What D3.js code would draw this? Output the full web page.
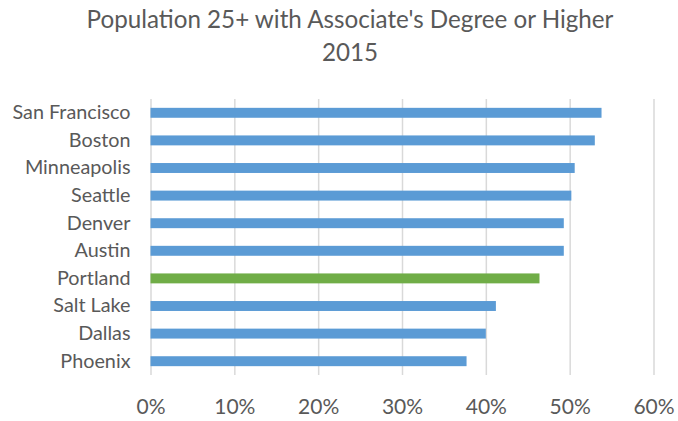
<!DOCTYPE html>
<html>
<head>
<meta charset="utf-8">
<script src="https://cdn.jsdelivr.net/npm/d3@7"></script>
<style>
  html, body { margin: 0; padding: 0; background: #fff; }
  svg { display: block; font-family: Lato, "Open Sans", sans-serif; }
</style>
</head>
<body>
<div id="chart"></div>
<script>
const cities = ['San Francisco', 'Boston', 'Minneapolis', 'Seattle', 'Denver',
  'Austin', 'Portland', 'Salt Lake', 'Dallas', 'Phoenix'];
const shares = [0.538, 0.530, 0.506, 0.502, 0.493, 0.493, 0.464, 0.412, 0.400, 0.377];
const highlight = ['Portland'];
const ticks = [0, 0.1, 0.2, 0.3, 0.4, 0.5, 0.6];
const titleLines = ["Population 25+ with Associate's Degree or Higher", '2015'];

const width = 678;
const height = 421;
const plot = { left: 150.5, right: 653.5, top: 99, bottom: 375 };

const svg = d3.select('#chart')
  .append('svg')
  .attr('width', width)
  .attr('height', height);

const x = d3.scaleLinear()
  .domain([0, 0.6])
  .range([plot.left, plot.right]);

const y = d3.scaleBand()
  .domain(cities)
  .range([plot.top, plot.bottom])
  .paddingInner(0.64)
  .paddingOuter(0.32);

// title
svg.append('g')
  .selectAll('text')
  .data(titleLines)
  .enter()
  .append('text')
  .attr('x', 350)
  .attr('y', (d, i) => 28 + i * 33)
  .attr('text-anchor', 'middle')
  .attr('fill', '#595959')
  .style('font-size', '24.2px')
  .text((d) => d);

// gridlines + tick labels
const xAxis = d3.axisBottom(x)
  .tickValues(ticks)
  .tickFormat(d3.format('.0%'))
  .tickSize(-(plot.bottom - plot.top))
  .tickPadding(0);

const gx = svg.append('g')
  .attr('transform', `translate(0,${plot.bottom})`)
  .call(xAxis);

gx.select('.domain').remove();
gx.selectAll('.tick line')
  .attr('stroke', '#d9d9d9')
  .attr('stroke-width', 1.5);
gx.selectAll('.tick text')
  .attr('y', 39)
  .attr('dy', 0)
  .attr('fill', '#595959')
  .style('font-size', '21px')
  .style('font-family', 'Lato, "Open Sans", sans-serif');

// category labels
const yAxis = d3.axisLeft(y).tickSize(0).tickPadding(20);
const gy = svg.append('g')
  .attr('transform', `translate(${plot.left},0)`)
  .call(yAxis);

gy.select('.domain').remove();
gy.selectAll('.tick text')
  .attr('fill', '#595959')
  .style('font-size', '19.8px')
  .style('font-family', 'Lato, "Open Sans", sans-serif');

// bars
svg.append('g')
  .selectAll('rect')
  .data(cities)
  .enter()
  .append('rect')
  .attr('x', x(0))
  .attr('y', (d) => y(d))
  .attr('width', (d, i) => x(shares[i]) - x(0))
  .attr('height', y.bandwidth())
  .attr('fill', (d) => (highlight.includes(d) ? '#70ad47' : '#5b9bd5'));
</script>
</body>
</html>
